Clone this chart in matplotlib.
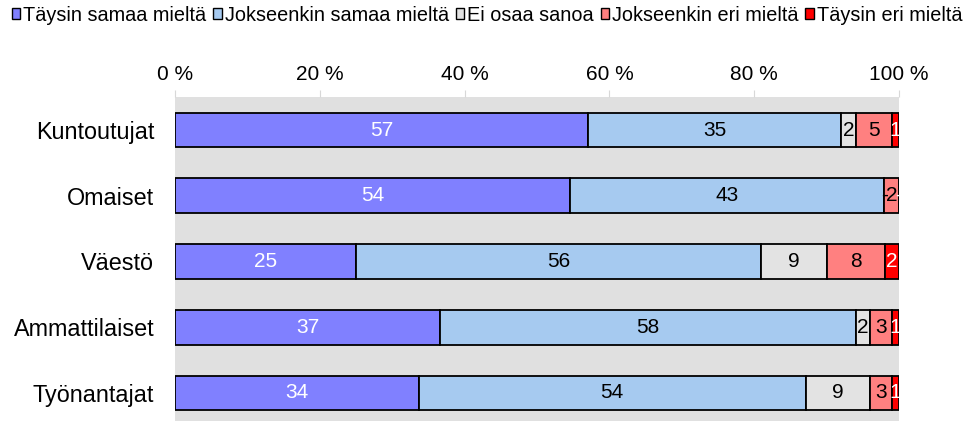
import numpy as np
import matplotlib.pyplot as plt
from matplotlib.patches import Patch

plt.rcParams['font.family'] = ['Liberation Sans', 'DejaVu Sans']

# Vastaajaryhmät ja vastausten jakaumat (%)
groups = ['Kuntoutujat', 'Omaiset', 'Väestö', 'Ammattilaiset', 'Työnantajat']
answers = ['Täysin samaa mieltä', 'Jokseenkin samaa mieltä', 'Ei osaa sanoa',
           'Jokseenkin eri mieltä', 'Täysin eri mieltä']
taysin_samaa = [57, 54, 25, 37, 34]
jokseenkin_samaa = [35, 43, 56, 58, 54]
ei_osaa = [2, 0, 9, 2, 9]
jokseenkin_eri = [5, 2, 8, 3, 3]
taysin_eri = [1, 0, 2, 1, 1]

colors = ['#8080FF', '#A6CAF0', '#E3E3E3', '#FF8080', '#FF0000']
label_colors = ['white', 'black', 'black', 'black', 'white']

data = np.array([taysin_samaa, jokseenkin_samaa, ei_osaa, jokseenkin_eri, taysin_eri], dtype=float)
shares = data / data.sum(axis=0) * 100

fig = plt.figure(figsize=(9.64, 4.21), dpi=100)
ax = fig.add_axes([175 / 964, 0, 724 / 964, 1 - 97 / 421])
ax.set_facecolor('#E0E0E0')

y = np.arange(len(groups))
left = np.zeros(len(groups))
for k in range(len(answers)):
    ax.barh(y, shares[k], left=left, height=0.53, color=colors[k],
            edgecolor='black', linewidth=1.3, zorder=3)
    for i in range(len(groups)):
        txt = '%d' % data[k, i] if data[k, i] > 0 else '-'
        ax.text(left[i] + shares[k, i] / 2, y[i], txt, ha='center', va='center',
                fontsize=15, color=label_colors[k], zorder=4)
    left += shares[k]

ax.set_xlim(0, 100)
ax.set_ylim(4 + 28 / 65.75, -33 / 65.75)
ax.set_yticks(y)
ax.set_yticklabels(groups, fontsize=16.8)
ax.xaxis.tick_top()
ax.set_xticks(np.arange(0, 101, 20))
ax.set_xticklabels(['%d %%' % v for v in range(0, 101, 20)], fontsize=15)
ax.tick_params(axis='x', direction='out', length=5, color='#D8D8D8', pad=4.5)
ax.tick_params(axis='y', length=0, pad=15)
for s in ax.spines.values():
    s.set_visible(False)

handles = [Patch(facecolor=c, edgecolor='black', linewidth=1) for c in colors]
fig.legend(handles, answers, loc='upper left', bbox_to_anchor=(0.0, 1.015), ncol=5,
           frameon=False, fontsize=14.3, handlelength=0.42, handleheight=0.42,
           handletextpad=0.15, columnspacing=0.35, borderaxespad=0.2)

fig.savefig('out.png', dpi=100)
